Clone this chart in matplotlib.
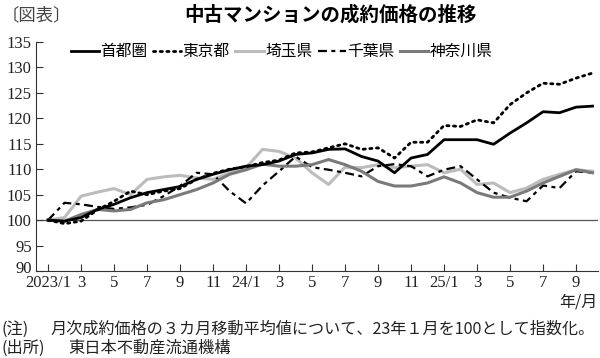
import matplotlib
matplotlib.use("Agg")
import matplotlib.pyplot as plt
import matplotlib.transforms as mtransforms
import numpy as np

plt.rcParams['font.family'] = ['Liberation Serif', 'Noto Sans CJK JP', 'DejaVu Sans']

# months from 2023/1 to 2025/10
months = np.arange(34)
tick_pos = list(range(0, 33, 2))
tick_labels = ['2023/1', '3', '5', '7', '9', '11', '24/1', '3', '5', '7', '9', '11',
               '25/1', '3', '5', '7', '9']

# index values (2023/1 = 100)
shutoken = [100, 99.8, 100.5, 102.1, 103.1, 104.4, 105.4, 106.0, 106.6, 108.0,
            109.0, 109.9, 110.6, 110.9, 111.6, 112.9, 113.2, 113.9, 114.0, 112.5,
            111.6, 109.3, 112.2, 112.9, 115.8, 115.8, 115.8, 114.9, 117.1, 119.1,
            121.3, 121.1, 122.2, 122.4]
tokyo = [100, 99.3, 99.8, 102.0, 103.7, 105.7, 105.0, 105.7, 106.2, 108.0,
         109.2, 110.0, 110.5, 111.3, 111.8, 113.2, 113.4, 114.2, 115.0, 113.9,
         114.2, 112.2, 115.3, 115.3, 118.6, 118.4, 119.7, 119.1, 122.7, 125.0,
         126.9, 126.7, 127.9, 128.9]
saitama = [100, 100.5, 104.7, 105.5, 106.2, 105.0, 108.0, 108.5, 108.8, 108.3,
           108.0, 109.3, 110.3, 113.9, 113.5, 112.2, 109.3, 107.0, 110.4, 110.3,
           110.9, 110.3, 110.6, 110.9, 109.3, 110.0, 107.0, 107.3, 105.4, 106.3,
           108.0, 109.0, 109.9, 109.6]
chiba = [100, 103.4, 103.1, 102.6, 102.2, 102.5, 103.0, 104.7, 106.7, 109.3,
         109.0, 105.7, 103.3, 106.8, 109.6, 112.5, 110.4, 109.9, 109.3, 108.6,
         110.6, 111.0, 110.6, 108.6, 109.9, 110.6, 108.0, 105.4, 104.4, 103.7,
         106.8, 106.3, 109.6, 109.3]
kanagawa = [100, 99.8, 101.1, 102.1, 101.8, 102.1, 103.4, 104.0, 105.0, 106.0,
            107.3, 109.0, 109.9, 111.0, 110.6, 110.6, 110.9, 111.9, 110.9, 109.6,
            107.6, 106.7, 106.7, 107.3, 108.5, 107.3, 105.4, 104.5, 104.5, 105.7,
            107.3, 108.6, 109.9, 109.3]

fig = plt.figure(figsize=(6, 3.58), dpi=100)
ax = fig.add_axes([36 / 600, 1 - 271 / 358, 562 / 600, 229 / 358])

ax.axhline(100, color='#555555', lw=0.9, zorder=1)

ax.plot(months, shutoken, color='black', lw=2.0, label='首都圏', zorder=5)
ax.plot(months, tokyo, color='black', lw=2.0, ls=(0, (0.8, 1.6)),
        dash_capstyle='round', label='東京都', zorder=4)
ax.plot(months, saitama, color='#bcbcbc', lw=2.2, label='埼玉県', zorder=3)
ax.plot(months, chiba, color='black', lw=1.6, ls=(0, (4, 2, 1.8, 2)),
        label='千葉県', zorder=3)
ax.plot(months, kanagawa, color='#7a7a7a', lw=2.2, label='神奈川県', zorder=3)

ax.set_xlim(-0.73, 33.33)
ax.set_ylim(90, 135)
ax.set_yticks(range(90, 136, 5))
ax.set_xticks(tick_pos)
ax.set_xticklabels(tick_labels)

for s in ['top', 'right']:
    ax.spines[s].set_visible(False)
for s in ['left', 'bottom']:
    ax.spines[s].set_color('#333333')
    ax.spines[s].set_linewidth(0.8)
ax.tick_params(direction='in', length=5, width=0.8, color='#333333',
               labelsize=12, labelcolor='#222222')
ax.tick_params(axis='y', pad=3)
ax.tick_params(axis='x', pad=3)
# lift the bottom y label a few pixels so it clears 2023/1
lab90 = ax.get_yticklabels()[0]
lab90.set_transform(lab90.get_transform() +
                    mtransforms.ScaledTranslation(0, 4 / 100, fig.dpi_scale_trans))

leg = ax.legend(loc='upper left', bbox_to_anchor=(71 / 600, 1 - 43 / 358),
                bbox_transform=fig.transFigure, ncol=5, frameon=False,
                borderpad=0, borderaxespad=0, handlelength=1.8,
                handletextpad=0.08, columnspacing=0.35,
                prop={'family': ['Noto Sans CJK JP'], 'size': 11.3})

cjk = ['Noto Sans CJK JP']
fig.text(0.003, 1 - 15 / 358, '〔図表〕', fontsize=12.5, color='#444444',
         family=cjk, va='center', ha='left')
fig.text(331 / 600, 1 - 15 / 358, '中古マンションの成約価格の推移', fontsize=14,
         fontweight='bold', family=cjk, va='center', ha='center')
fig.text(597 / 600, 1 - 302 / 358, '年/月', fontsize=11.5,
         family=cjk, va='center', ha='right', color='#222222')
fig.text(0.003, 1 - 329 / 358, '(注)', fontsize=11.7, family=cjk,
         va='center', ha='left', color='#222222')
fig.text(50 / 600, 1 - 329 / 358,
         '月次成約価格の３カ月移動平均値について、23年１月を100として指数化。',
         fontsize=11.6, family=cjk, va='center', ha='left', color='#222222')
fig.text(0.003, 1 - 348 / 358, '(出所)', fontsize=11.7, family=cjk,
         va='center', ha='left', color='#222222')
fig.text(68 / 600, 1 - 348 / 358, '東日本不動産流通機構', fontsize=11.7,
         family=cjk, va='center', ha='left', color='#222222')

fig.savefig('out.png', dpi=100)
